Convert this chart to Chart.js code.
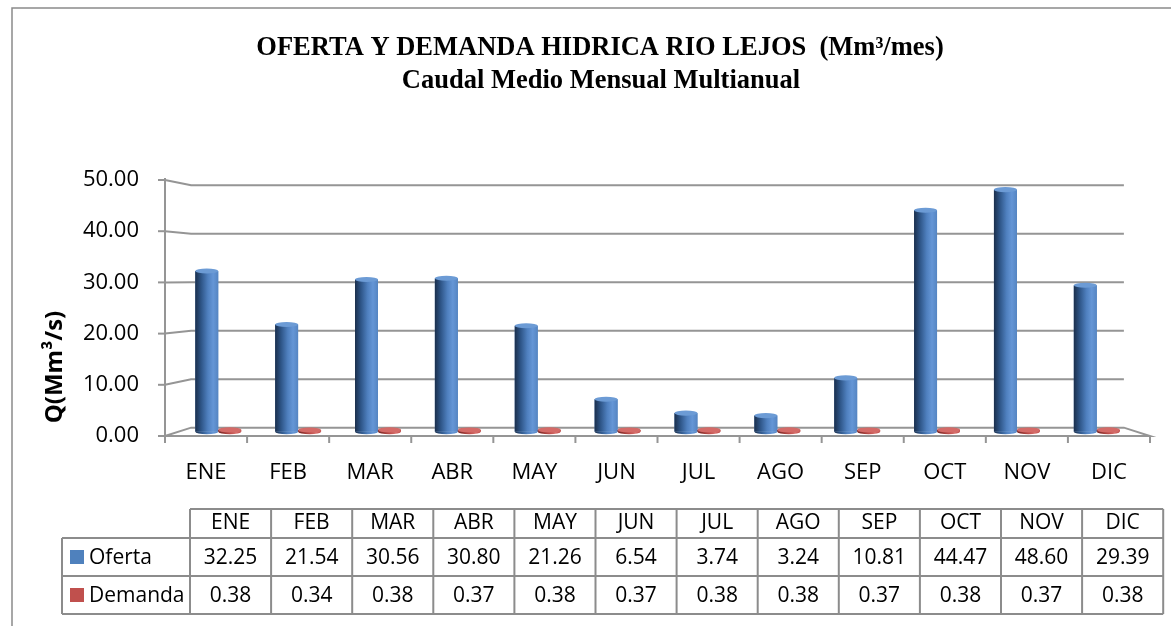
<!DOCTYPE html>
<html>
<head>
<meta charset="utf-8">
<script src="https://cdn.jsdelivr.net/npm/chart.js@4.4.1/dist/chart.umd.min.js"></script>
<style>
  html, body { margin: 0; padding: 0; background: #fff; }
  #wrap { width: 1171px; height: 626px; }
</style>
</head>
<body>
<div id="wrap"><canvas id="chart"></canvas></div>
<script>
const months = ["ENE", "FEB", "MAR", "ABR", "MAY", "JUN", "JUL", "AGO", "SEP", "OCT", "NOV", "DIC"];
const oferta = [32.25, 21.54, 30.56, 30.80, 21.26, 6.54, 3.74, 3.24, 10.81, 44.47, 48.60, 29.39];
const demanda = [0.38, 0.34, 0.38, 0.37, 0.38, 0.37, 0.38, 0.38, 0.37, 0.38, 0.37, 0.38];
const seriesNames = ["Oferta", "Demanda"];
const titleLines = ["OFERTA Y DEMANDA HIDRICA RIO LEJOS  (Mm\u00b3/mes)", "Caudal Medio Mensual Multianual"];
const yTitle = "Q(Mm\u00b3/s)";

const SANS = "'Open Sans', sans-serif";
const GRID = "#959595";
const BACK = 0.947; // back wall scale
const MID = 0.973;  // plane the columns stand on

const shades = {
  Oferta: { base: "#4f81bd", body: ["#1b2f4c", "#2d5486", "#4f80bf", "#6596d6", "#5585c2"], top: "#6c9bd5" },
  Demanda: { base: "#c0504d", body: ["#6e201f", "#9c3936", "#c0504d", "#d8716e", "#bb4c49"], top: "#d46a67" }
};

function vp(area) {
  return { x: (area.left + area.right) / 2, y: area.top + 0.385 * (area.bottom - area.top) };
}
function proj(c, x, y, s) {
  return [c.x + s * (x - c.x), c.y + s * (y - c.y)];
}

const walls3d = {
  id: "walls3d",
  beforeDatasetsDraw(chart) {
    const { ctx, chartArea: a, scales } = chart;
    const c = vp(a);
    ctx.save();
    ctx.strokeStyle = GRID;
    ctx.lineWidth = 2;
    scales.y.ticks.forEach(t => {
      const yf = scales.y.getPixelForValue(t.value);
      const p0 = proj(c, a.left, yf, BACK);
      const p1 = proj(c, a.right, yf, BACK);
      ctx.beginPath();
      ctx.moveTo(a.left, yf);
      ctx.lineTo(p0[0], p0[1]);
      ctx.lineTo(p1[0], p1[1]);
      if (t.value === 0) {
        ctx.lineTo(a.right, a.bottom);
        ctx.lineTo(a.left, a.bottom);
      }
      ctx.stroke();
      // tick on value axis
      ctx.beginPath();
      ctx.moveTo(a.left - 7, yf);
      ctx.lineTo(a.left, yf);
      ctx.stroke();
    });
    // value axis line
    ctx.beginPath();
    ctx.moveTo(a.left, a.top - 2);
    ctx.lineTo(a.left, a.bottom + 4);
    ctx.stroke();
    // category ticks
    const step = (a.right - a.left) / months.length;
    for (let i = 0; i <= months.length; i++) {
      const x = a.left + i * step;
      ctx.beginPath();
      ctx.moveTo(x, a.bottom);
      ctx.lineTo(x, a.bottom + 7);
      ctx.stroke();
    }
    ctx.restore();

    // columns sit on a plane slightly behind the front
    ctx.save();
    ctx.translate(c.x * (1 - MID), c.y * (1 - MID));
    ctx.scale(MID, MID);
  },
  afterDatasetsDraw(chart) {
    const { ctx } = chart;
    chart.data.datasets.forEach((ds, di) => {
      const meta = chart.getDatasetMeta(di);
      const sh = shades[ds.label];
      meta.data.forEach(el => {
        const { x, y, base, width } = el.getProps(["x", "y", "base", "width"], true);
        const l = x - width / 2;
        const ry = width * 0.11;
        const g = ctx.createLinearGradient(l, 0, l + width, 0);
        const stops = [0, 0.25, 0.55, 0.78, 1];
        sh.body.forEach((col, k) => g.addColorStop(stops[k], col));
        ctx.fillStyle = g;
        ctx.fillRect(l, y, width, base - y);
        ctx.beginPath();
        ctx.ellipse(x, base, width / 2, ry, 0, 0, Math.PI);
        ctx.fill();
        ctx.beginPath();
        ctx.ellipse(x, y, width / 2, ry, 0, 0, Math.PI * 2);
        ctx.fillStyle = sh.top;
        ctx.fill();
      });
    });
    ctx.restore();
  }
};

const extras = {
  id: "extras",
  afterDraw(chart) {
    const { ctx } = chart;
    ctx.save();
    // outer frame
    ctx.strokeStyle = "#8a8a8a";
    ctx.lineWidth = 1.5;
    ctx.beginPath();
    ctx.moveTo(12, 626);
    ctx.lineTo(12, 8);
    ctx.lineTo(1171, 8);
    ctx.stroke();

    // chart title
    ctx.fillStyle = "#000";
    ctx.textAlign = "center";
    ctx.textBaseline = "middle";
    ctx.font = "bold 26.5px 'Liberation Serif', serif";
    ctx.fillText(titleLines[0], 600, 48);
    ctx.fillText(titleLines[1], 601, 81);

    // rotated axis title
    ctx.font = "bold 24px " + SANS;
    ctx.translate(55, 367);
    ctx.rotate(-Math.PI / 2);
    ctx.fillText(yTitle, 0, 0);
    ctx.restore();

    // data table
    const left = 190, col = 81.1, labelLeft = 62;
    const rows = [509, 538, 576, 614];
    const right = left + col * months.length;
    ctx.save();
    ctx.strokeStyle = "#8c8c8c";
    ctx.lineWidth = 2;
    ctx.beginPath();
    ctx.moveTo(left, rows[0]); ctx.lineTo(right, rows[0]);
    for (let r = 1; r < rows.length; r++) {
      ctx.moveTo(labelLeft, rows[r]); ctx.lineTo(right, rows[r]);
    }
    ctx.moveTo(labelLeft, rows[1]); ctx.lineTo(labelLeft, rows[3]);
    for (let i = 0; i <= months.length; i++) {
      ctx.moveTo(left + i * col, rows[0]); ctx.lineTo(left + i * col, rows[3]);
    }
    ctx.stroke();

    ctx.fillStyle = "#000";
    ctx.font = "21px " + SANS;
    ctx.textAlign = "center";
    ctx.textBaseline = "middle";
    const series = [oferta, demanda];
    months.forEach((m, i) => {
      const cx = left + col * (i + 0.5);
      ctx.fillText(m, cx, (rows[0] + rows[1]) / 2);
      series.forEach((vals, s) => {
        ctx.fillText(vals[i].toFixed(2), cx, (rows[s + 1] + rows[s + 2]) / 2 + 1);
      });
    });
    seriesNames.forEach((name, s) => {
      const cy = (rows[s + 1] + rows[s + 2]) / 2;
      ctx.fillStyle = shades[name].base;
      ctx.fillRect(70, cy - 7, 14, 14);
      ctx.fillStyle = "#000";
      ctx.textAlign = "left";
      ctx.fillText(name, 89, cy + 1);
    });
    ctx.restore();
  }
};

new Chart(document.getElementById("chart"), {
  type: "bar",
  data: {
    labels: months,
    datasets: [
      { label: seriesNames[0], data: oferta, backgroundColor: shades.Oferta.base },
      { label: seriesNames[1], data: demanda, backgroundColor: shades.Demanda.base }
    ]
  },
  plugins: [walls3d, extras],
  options: {
    responsive: true,
    maintainAspectRatio: false,
    animation: false,
    events: [],
    categoryPercentage: 0.575,
    barPercentage: 1,
    layout: { padding: { left: 0, right: 21, top: 180, bottom: 140 } },
    plugins: {
      legend: { display: false },
      tooltip: { enabled: false },
      title: { display: false }
    },
    scales: {
      x: {
        grid: { display: false },
        border: { display: false },
        ticks: { color: "#000", padding: 16, font: { family: SANS, size: 22 } },
        afterFit(scale) { scale.height = 50; }
      },
      y: {
        min: 0,
        max: 50,
        ticks: {
          stepSize: 10,
          color: "#000",
          padding: 18,
          font: { family: SANS, size: 22 },
          callback: v => v.toFixed(2)
        },
        grid: { display: false },
        border: { display: false },
        afterFit(scale) { scale.width = 165; }
      }
    }
  }
});
</script>
</body>
</html>
